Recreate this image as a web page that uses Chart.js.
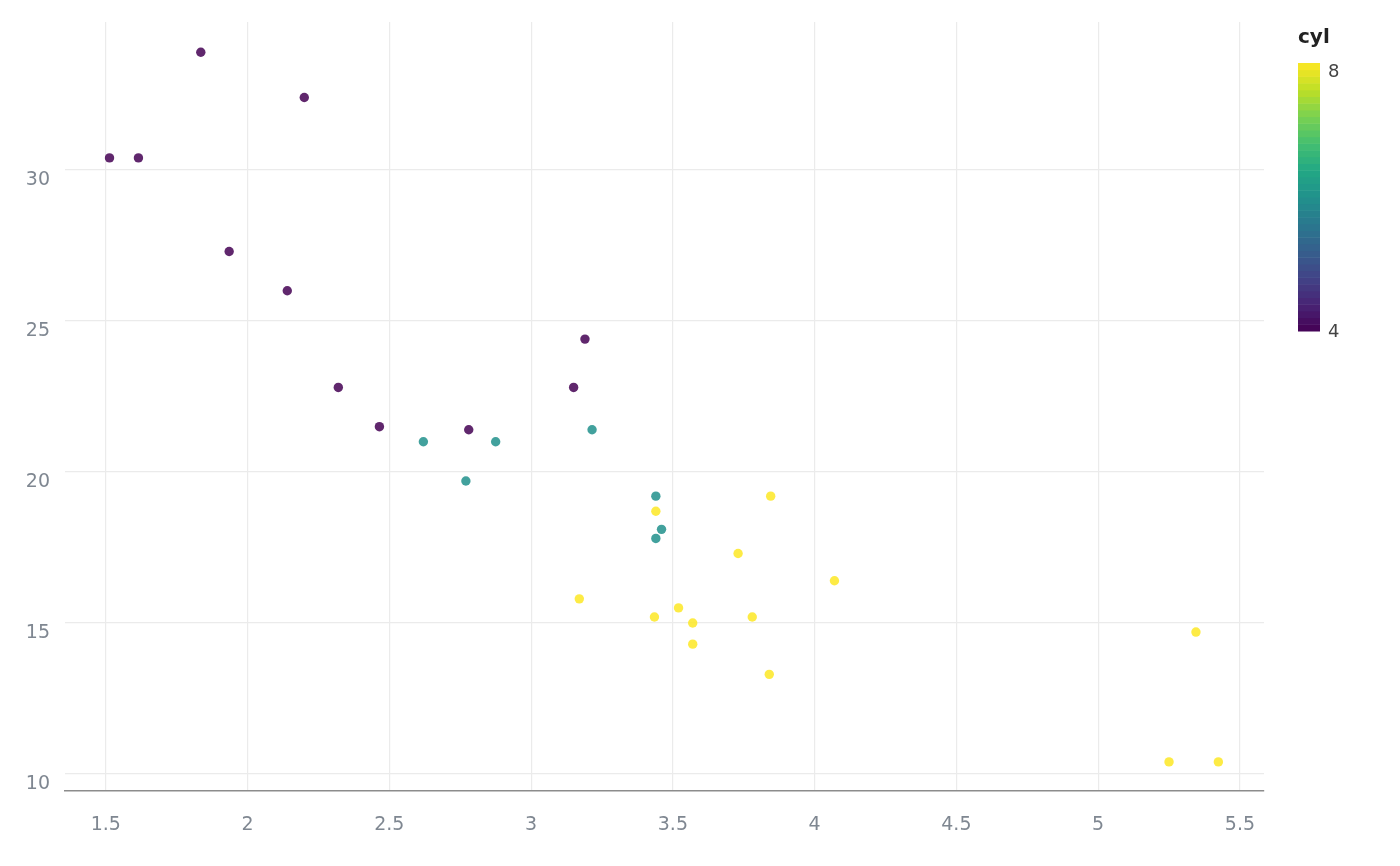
<!DOCTYPE html>
<html>
<head>
<meta charset="utf-8">
<script src="https://cdn.jsdelivr.net/npm/chart.js@4"></script>
<style>
  html, body { margin: 0; padding: 0; background: #fff; }
  #wrap { width: 1400px; height: 866px; }
</style>
</head>
<body>
<div id="wrap"><canvas id="c" width="1400" height="866"></canvas></div>
<script>
// mtcars: weight vs mpg, coloured by cylinders
const wt  = [2.620, 2.875, 2.320, 3.215, 3.440, 3.460, 3.570, 3.190, 3.150, 3.440, 3.440, 4.070, 3.730, 3.780, 5.250, 5.424,
             5.345, 2.200, 1.615, 1.835, 2.465, 3.520, 3.435, 3.840, 3.845, 1.935, 2.140, 1.513, 3.170, 2.770, 3.570, 2.780];
const mpg = [21.0, 21.0, 22.8, 21.4, 18.7, 18.1, 14.3, 24.4, 22.8, 19.2, 17.8, 16.4, 17.3, 15.2, 10.4, 10.4,
             14.7, 32.4, 30.4, 33.9, 21.5, 15.5, 15.2, 13.3, 19.2, 27.3, 26.0, 30.4, 15.8, 19.7, 15.0, 21.4];
const cyl = [6, 6, 4, 6, 8, 6, 8, 4, 4, 6, 6, 8, 8, 8, 8, 8,
             8, 4, 4, 4, 4, 8, 8, 8, 8, 4, 4, 4, 8, 6, 8, 4];
const xTicks = [1.5, 2, 2.5, 3, 3.5, 4, 4.5, 5, 5.5];
const yTicks = [10, 15, 20, 25, 30];
const legendLabels = ['8', '4'];

// viridis stops (low -> high)
const viridis = ['#440154', '#482475', '#414487', '#355f8d', '#2a788e', '#21918c',
                 '#22a884', '#44bf70', '#7ad151', '#bddf26', '#fde725'];
const cylColor = { 4: 'rgba(68,1,84,0.85)', 6: 'rgba(33,144,140,0.85)', 8: 'rgba(253,231,37,0.85)' };

const points = wt.map((w, i) => ({ x: w, y: mpg[i] }));
const tickColor = '#7f8791';

// colour bar legend on the right
const colorBar = {
  id: 'colorBar',
  afterDraw(chart) {
    const ctx = chart.ctx;
    const x = 1298, top = 63, bottom = 331, w = 22;
    ctx.save();
    const nbin = 40;
    const h = (bottom - top) / nbin;
    for (let b = 0; b < nbin; b++) {
      const t = (b + 0.5) / nbin; // from bottom
      const pos = t * (viridis.length - 1);
      const lo = Math.floor(pos), hi = Math.min(lo + 1, viridis.length - 1), f = pos - lo;
      const c1 = hex(viridis[lo]), c2 = hex(viridis[hi]);
      const c = c1.map((v, k) => Math.round(v + (c2[k] - v) * f));
      ctx.fillStyle = 'rgb(' + c.join(',') + ')';
      ctx.fillRect(x, bottom - (b + 1) * h, w, h + 0.5);
    }
    ctx.fillStyle = '#222';
    ctx.font = 'bold 20px "DejaVu Sans"';
    ctx.textBaseline = 'middle';
    ctx.textAlign = 'left';
    ctx.fillText('cyl', 1298, 38);
    ctx.fillStyle = '#444';
    ctx.font = '18px "DejaVu Sans"';
    ctx.fillText(legendLabels[0], 1328, 72);
    ctx.fillText(legendLabels[1], 1328, 332);
    ctx.restore();
  }
};

function hex(s) {
  return [parseInt(s.slice(1, 3), 16), parseInt(s.slice(3, 5), 16), parseInt(s.slice(5, 7), 16)];
}

new Chart(document.getElementById('c'), {
  type: 'scatter',
  data: {
    datasets: [{
      data: points,
      pointRadius: 4.7,
      pointHoverRadius: 4.7,
      pointBorderWidth: 0,
      backgroundColor: cyl.map(c => cylColor[c]),
      borderColor: cyl.map(c => cylColor[c])
    }]
  },
  options: {
    responsive: false,
    animation: false,
    layout: { padding: { top: 22, right: 136, left: 0, bottom: 0 } },
    plugins: { legend: { display: false }, tooltip: { enabled: false } },
    scales: {
      x: {
        type: 'linear',
        min: 1.356,
        max: 5.585,
        afterBuildTicks(scale) { scale.ticks = xTicks.map(v => ({ value: v })); },
        afterFit(scale) { scale.height = 75; scale.paddingLeft = 0; scale.paddingRight = 0; },
        ticks: {
          color: tickColor,
          font: { family: 'DejaVu Sans', size: 19 },
          padding: 23,
          callback: v => String(v)
        },
        grid: { color: '#ebebeb', lineWidth: 1.2, drawTicks: false },
        border: { display: true, color: '#8c8c8c', width: 1.5 }
      },
      y: {
        type: 'linear',
        min: 9.437,
        max: 34.9,
        afterBuildTicks(scale) { scale.ticks = yTicks.map(v => ({ value: v })); },
        afterFit(scale) { scale.width = 65; scale.paddingTop = 0; scale.paddingBottom = 0; },
        ticks: {
          color: tickColor,
          font: { family: 'DejaVu Sans', size: 19 },
          padding: 15,
          labelOffset: 10,
          callback: v => String(v)
        },
        grid: { color: '#ebebeb', lineWidth: 1.2, drawTicks: false },
        border: { display: false }
      }
    }
  },
  plugins: [colorBar]
});
</script>
</body>
</html>
